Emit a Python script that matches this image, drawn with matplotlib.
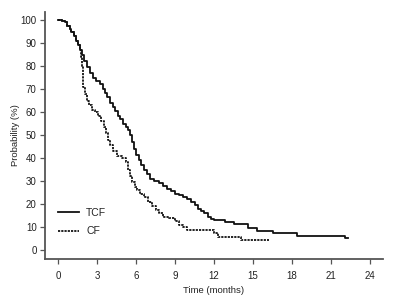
import matplotlib

matplotlib.use("Agg")
import matplotlib.pyplot as plt

plt.rcParams["font.family"] = ["Liberation Sans", "DejaVu Sans"]

# Kaplan-Meier steps (months, %)
tcf_time = [0, 0.3, 0.5, 0.7, 0.9, 1.0, 1.2, 1.4, 1.55, 1.7, 1.85, 2.0, 2.2, 2.45, 2.7,
            2.95, 3.2, 3.45, 3.6, 3.8, 4.0, 4.2, 4.4, 4.6, 4.8, 5.0, 5.2, 5.4, 5.55, 5.7,
            5.85, 6.0, 6.2, 6.4, 6.6, 6.85, 7.1, 7.4, 7.8, 8.1, 8.4, 8.7, 9.0, 9.3, 9.6,
            9.9, 10.2, 10.5, 10.8, 11.0, 11.2, 11.5, 11.8, 12.0, 12.85, 13.5, 14.6, 15.3,
            16.5, 18.4, 22.1, 22.3]
tcf_surv = [100, 99.5, 99, 97.5, 96, 95, 93, 91, 89, 87, 85, 82, 79.5, 77, 75,
            73.5, 72, 70, 68.5, 66.5, 64, 62, 60.5, 58.5, 57, 55, 53.5, 52, 50, 47,
            44, 41.5, 39, 37, 35, 33, 31, 30, 29, 28, 26.5, 25.5, 24.5, 24, 23,
            22, 21, 19.5, 18, 17, 16, 14.5, 13.5, 13, 12, 11.3, 9.4, 8.4,
            7.5, 6.2, 5.1, 5.1]

cf_time = [0, 0.3, 0.5, 0.7, 0.9, 1.0, 1.2, 1.4, 1.55, 1.7, 1.8, 1.85, 1.9, 1.95, 2.05,
           2.2, 2.4, 2.6, 2.85, 3.1, 3.3, 3.5, 3.7, 3.85, 4.0, 4.2, 4.5, 4.9, 5.25, 5.4,
           5.5, 5.7, 5.9, 6.1, 6.3, 6.6, 6.9, 7.2, 7.5, 7.8, 8.1, 8.5, 9.0, 9.3, 9.6,
           9.9, 12.0, 12.3, 14.1, 16.2]
cf_surv = [100, 99.5, 99, 97.5, 96, 95, 93, 91, 89, 87, 84, 80, 76, 71, 68,
           65, 63, 61, 60, 58.5, 56, 53.5, 51, 48, 45.5, 43, 41, 40, 38.5, 35,
           32, 29.5, 27.5, 26, 24.5, 23, 21, 19, 17.5, 16, 14.5, 13.8, 12.5, 11, 9.8,
           8.7, 7.2, 5.5, 4.3, 4.3]

x_ticks = [0, 3, 6, 9, 12, 15, 18, 21, 24]
y_ticks = [0, 10, 20, 30, 40, 50, 60, 70, 80, 90, 100]

fig = plt.figure(figsize=(4.0, 3.06), dpi=100)
ax = fig.add_axes([0.1125, 0.1536, 0.845, 0.807])

ax.plot(tcf_time, tcf_surv, drawstyle="steps-post", color="#111111", lw=1.3, label="TCF")
ax.plot(cf_time, cf_surv, drawstyle="steps-post", color="#111111", lw=1.3,
        linestyle=(0, (1.2, 0.6)), label="CF")

ax.set_xlim(-1, 25)
ax.set_ylim(-3.9, 103.5)
ax.set_xticks(x_ticks)
ax.set_yticks(y_ticks)
for side in ("top", "right"):
    ax.spines[side].set_visible(False)
for side in ("left", "bottom"):
    ax.spines[side].set_color("#555555")
    ax.spines[side].set_linewidth(1.3)
ax.tick_params(direction="out", length=3.5, width=0.9, color="#555555",
               labelsize=7, labelcolor="#222222", pad=2.5)
ax.tick_params(axis="x", pad=5)
ax.set_xlabel("Time (months)", fontsize=6.8, color="#222222", labelpad=4)
ax.set_ylabel("Probability (%)", fontsize=6.8, color="#222222", labelpad=0.5)

ax.legend(loc="upper left", bbox_to_anchor=(0.0385, 0.207), frameon=False, fontsize=7.5,
          handlelength=2.0, labelspacing=0.8, handletextpad=0.7, borderpad=0,
          borderaxespad=0, labelcolor="#222222")

fig.savefig("out.png", dpi=100)
plt.close(fig)
